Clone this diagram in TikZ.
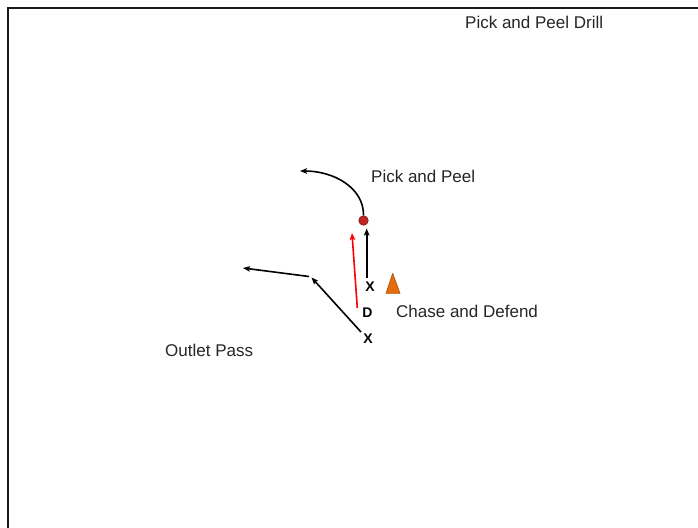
\documentclass[tikz,border=0pt]{standalone}
\usepackage{fontspec}
\setmainfont{Liberation Sans}
\usetikzlibrary{arrows.meta}
\definecolor{dotred}{RGB}{192,36,36}
\definecolor{dotedge}{RGB}{130,20,20}
\definecolor{cone}{RGB}{228,108,10}
\definecolor{conedge}{RGB}{170,80,10}
\definecolor{framec}{RGB}{25,25,25}
\begin{document}
\begin{tikzpicture}[x=1pt,y=-1pt,
  lbl/.style={font=\fontsize{17}{20}\selectfont, inner sep=0pt, anchor=base west, text=black!85},
  plr/.style={font=\fontsize{14}{16}\selectfont\bfseries, inner sep=0pt, text=black},
  arr/.style={line width=1.6pt, -{Stealth[length=7pt,width=5.5pt,inset=1.5pt]}}]
\useasboundingbox (0,0) rectangle (698,527);
\fill[white] (0,0) rectangle (698,527);
% frame
\draw[line width=2pt, framec] (8,528) -- (8,8) -- (699,8);
% texts
\node[lbl] (title) at (465,28.3) {Pick and Peel Drill};
\node[lbl] (pp) at (371,182) {Pick and Peel};
\node[lbl] (cd) at (396,317.3) {Chase and Defend};
\node[lbl] (op) at (165,356.7) {Outlet Pass};
% players
\node[plr] (x1) at (370,287) {X};
\node[plr] (d) at (367.5,313) {D};
\node[plr] (x2) at (368,338.3) {X};
% ball
\node[circle, fill=dotred, draw=dotedge, line width=0.6pt, minimum size=9.5pt, inner sep=0pt] (ball) at (363.5,220.5) {};
% cone
\draw[fill=cone, draw=conedge, line width=0.6pt, line join=round] (392.7,273.3) -- (400,293.3) -- (386,293.3) -- cycle;
% connector ends
\coordinate (a1s) at (366.7,278);
\coordinate (a1e) at (366.7,228.5);
\coordinate (rs) at (357.3,308);
\coordinate (re) at (352,233);
\coordinate (peel) at (300,171);
\coordinate (os) at (361,332);
\coordinate (ob) at (311.5,277.5);
\coordinate (obs) at (309,276.5);
\coordinate (oe) at (243,268);
% arrows
\draw[arr] (a1s) -- (a1e);
\draw[arr, red] (rs) -- (re);
\draw[arr] (ball.north) .. controls (364,188) and (334,171) .. (peel);
\draw[arr] (os) -- (ob);
\draw[arr] (obs) -- (oe);
\end{tikzpicture}
\end{document}
